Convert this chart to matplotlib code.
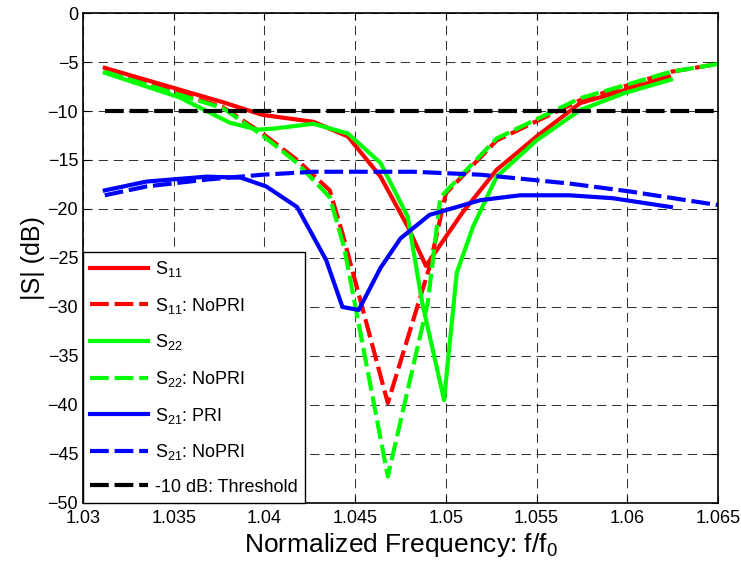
import numpy as np
import matplotlib.pyplot as plt

plt.rcParams['font.family'] = ['Liberation Sans', 'DejaVu Sans']
plt.rcParams['mathtext.fontset'] = 'custom'
plt.rcParams['mathtext.rm'] = 'Liberation Sans'
plt.rcParams['mathtext.it'] = 'Liberation Sans'

# S11 (con PRI)
f_s11 = [1.0312, 1.0377, 1.0399, 1.0427, 1.0446, 1.0464, 1.0479, 1.0489,
         1.0509, 1.0528, 1.0550, 1.0574, 1.0598, 1.0623]
s11 = [-5.6, -9.1, -10.4, -11.1, -12.6, -16.7, -21.8, -25.8,
       -20.4, -16.0, -12.6, -9.2, -7.9, -6.5]

# S11 senza PRI
f_s11n = [1.0312, 1.0377, 1.0399, 1.0418, 1.0436, 1.0443, 1.0468, 1.0491,
          1.0500, 1.0528, 1.0574, 1.0624, 1.065]
s11n = [-5.8, -9.6, -12.3, -15.0, -18.1, -22.5, -39.8, -25.9,
        -18.4, -13.0, -8.9, -6.0, -5.2]

# S22 (con PRI)
f_s22 = [1.0312, 1.0353, 1.0381, 1.0396, 1.0405, 1.0427, 1.0446, 1.0464,
         1.0479, 1.0487, 1.0499, 1.0506, 1.0515, 1.0528, 1.0550, 1.0574,
         1.0598, 1.0624]
s22 = [-6.1, -8.6, -11.2, -11.9, -11.8, -11.3, -12.3, -15.3,
       -20.8, -29.6, -39.5, -26.5, -21.8, -16.7, -13.0, -9.9,
       -8.2, -6.8]

# S22 senza PRI
f_s22n = [1.0312, 1.0377, 1.0399, 1.0418, 1.0436, 1.0444, 1.0468, 1.0490,
          1.0497, 1.0528, 1.0574, 1.0624, 1.065]
s22n = [-6.0, -9.7, -12.5, -15.3, -18.8, -24.0, -47.3, -29.6,
        -18.8, -12.8, -8.7, -6.0, -5.2]

# S21 con PRI
f_s21 = [1.0312, 1.0335, 1.0368, 1.0387, 1.0401, 1.0418, 1.0434, 1.0443,
         1.0452, 1.0464, 1.0475, 1.0491, 1.0519, 1.0541, 1.0568, 1.0592,
         1.0624]
s21 = [-18.1, -17.2, -16.7, -16.8, -17.7, -19.8, -25.2, -30.0,
       -30.3, -26.0, -23.0, -20.6, -19.1, -18.6, -18.6, -18.9,
       -19.8]

# S21 senza PRI
f_s21n = [1.0312, 1.0335, 1.0368, 1.0399, 1.0427, 1.0482, 1.0519, 1.0568,
          1.0601, 1.065]
s21n = [-18.6, -17.7, -17.0, -16.5, -16.2, -16.2, -16.5, -17.4,
        -18.2, -19.6]

f_thr = [1.0312, 1.065]
thr = [-10, -10]

fig = plt.figure(figsize=(7.41, 5.73), dpi=100)
ax = fig.add_axes([0.112, 0.1222, 0.857, 0.8551])

lw = 3
tratt = (0, (4.5, 1.4))
ax.plot(f_s11, s11, color='#ff0000', lw=lw, label='S$_{\\mathregular{11}}$')
ax.plot(f_s11n, s11n, color='#ff0000', lw=lw, ls=tratt,
        label='S$_{\\mathregular{11}}$: NoPRI')
ax.plot(f_s22, s22, color='#00ff00', lw=lw, label='S$_{\\mathregular{22}}$')
ax.plot(f_s22n, s22n, color='#00ff00', lw=lw, ls=tratt,
        label='S$_{\\mathregular{22}}$: NoPRI')
ax.plot(f_s21, s21, color='#0000ff', lw=lw, label='S$_{\\mathregular{21}}$: PRI')
ax.plot(f_s21n, s21n, color='#0000ff', lw=lw, ls=tratt,
        label='S$_{\\mathregular{21}}$: NoPRI')
ax.plot(f_thr, thr, color='black', lw=lw, ls=tratt,
        label='-10 dB: Threshold')

ax.set_xlim(1.03, 1.065)
ax.set_ylim(-50, 0)
ax.set_xticks(np.arange(1.03, 1.0651, 0.005))
ax.set_xticklabels(['1.03', '1.035', '1.04', '1.045', '1.05', '1.055', '1.06', '1.065'])
ax.set_yticks(np.arange(-50, 1, 5))
ax.tick_params(direction='in', top=True, right=True, labelsize=13, length=5)
ax.tick_params(axis='x', pad=5)
ax.grid(True, color='black', ls=(0, (9, 5.5)), lw=0.75, alpha=0.8)
for s in ax.spines.values():
    s.set_linewidth(1.2)

ax.set_xlabel('Normalized Frequency: f/f$_{\\mathregular{0}}$', fontsize=19, labelpad=3)
ax.set_ylabel('|S| (dB)', fontsize=18, labelpad=2)

leg = ax.legend(loc='lower left', bbox_to_anchor=(0, 0), borderaxespad=0,
                fontsize=13, handlelength=3.2, labelspacing=0.92,
                fancybox=False, framealpha=1, edgecolor='black',
                borderpad=0.4, handletextpad=0.4)
leg.get_frame().set_linewidth(1.0)

fig.savefig('out.png', dpi=100)
